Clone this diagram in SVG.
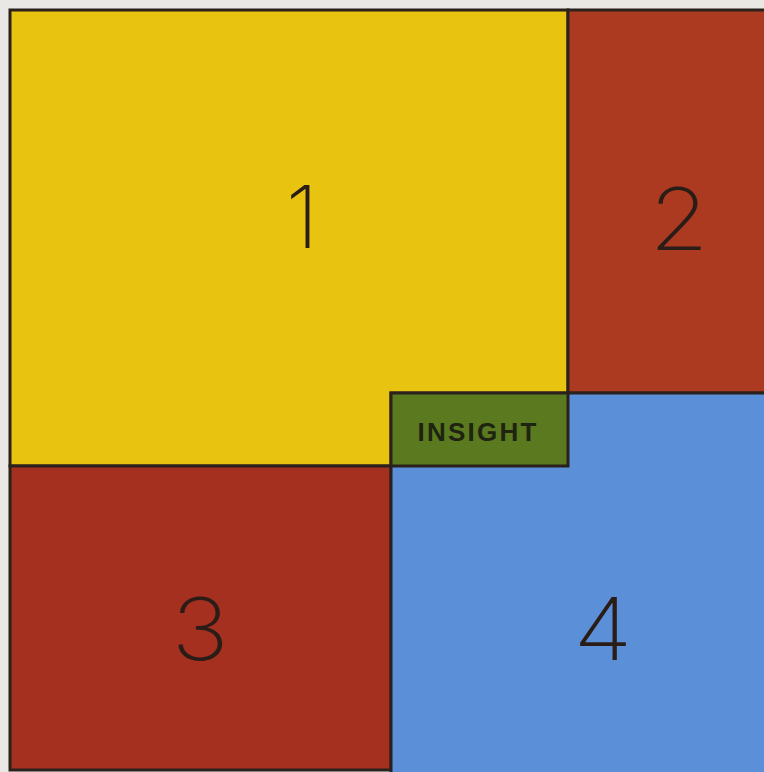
<svg xmlns="http://www.w3.org/2000/svg" width="764" height="772" viewBox="0 0 764 772">
<style>
.b{stroke:#2b211c;stroke-width:3}
.num{font-family:Inter,"Liberation Sans",sans-serif;font-weight:200;font-size:86px;fill:#2a1c16;text-anchor:middle}
.lbl{font-family:"Liberation Sans",Arial,sans-serif;font-weight:bold;font-size:26px;fill:#1e2410;text-anchor:middle}
</style>
<rect width="764" height="772" fill="#e9e8e4"/>
<g id="node1"><rect class="b" x="10" y="10" width="558" height="456" fill="#e8c30f"/><text class="num" x="302" y="248">1</text></g>
<g id="node2"><rect class="b" x="568" y="10" width="200" height="383" fill="#ab3a20"/><text class="num" x="679" y="250" transform="translate(679 0) scale(1.12 1) translate(-679 0)">2</text></g>
<g id="node3"><rect class="b" x="10" y="466" width="381" height="304" fill="#a5301f"/><text class="num" x="200" y="660" transform="translate(200 0) scale(1.12 1) translate(-200 0)">3</text></g>
<g id="node4"><rect class="b" x="391" y="393" width="377" height="381" fill="#5b8fd7"/><text class="num" x="603" y="660" transform="translate(603 0) scale(1.12 1) translate(-603 0)">4</text></g>
<g id="insight"><rect class="b" x="391" y="393" width="177" height="73" fill="#5b7a20"/><text class="lbl" x="477" y="441" textLength="119" lengthAdjust="spacing">INSIGHT</text></g>
<g id="connectors"></g>
</svg>
